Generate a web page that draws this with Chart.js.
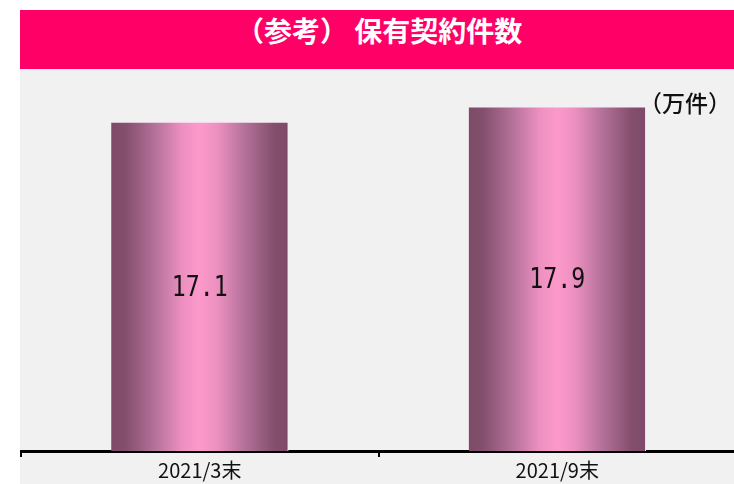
<!DOCTYPE html>
<html>
<head>
<meta charset="utf-8">
<script src="https://cdn.jsdelivr.net/npm/chart.js@4"></script>
<style>
  html, body { margin: 0; padding: 0; background: #fff; width: 734px; height: 484px; overflow: hidden; position: relative; }
  #title { position: absolute; left: 20px; top: 10px; width: 714px; height: 59px; background: #ff0066; }
  #title span { position: absolute; left: 216px; top: 0; line-height: 59px; color: #fff; font: bold 28px 'Noto Sans CJK JP'; white-space: nowrap; }
  #box { position: absolute; left: 20px; top: 69px; width: 716px; height: 415px; background: #f1f1f1; }
  #unit { position: absolute; left: 639px; top: 85px; font: 500 23px 'Noto Sans CJK JP'; color: #111; white-space: nowrap; }
</style>
</head>
<body>
<div id="title"><span>（参考） 保有契約件数</span></div>
<div id="box"><canvas id="myChart" width="716" height="415"></canvas></div>
<div id="unit">（万件）</div>
<script>
const categories = ['2021/3末', '2021/9末'];
const contracts = [17.1, 17.9];
const yMax = 19.5;

const barWidth = 177;

function barGradient(context) {
    const chart = context.chart;
    const xScale = chart.scales.x;
    if (!xScale || !chart.chartArea) { return '#fd98ca'; }
    const cx = xScale.getPixelForValue(context.dataIndex);
    const g = chart.ctx.createLinearGradient(cx - barWidth / 2, 0, cx + barWidth / 2, 0);
    g.addColorStop(0, '#7d4a67');
    g.addColorStop(0.08, '#834f6d');
    g.addColorStop(0.25, '#b5729a');
    g.addColorStop(0.4, '#ec90c0');
    g.addColorStop(0.5, '#fd99cb');
    g.addColorStop(0.6, '#ec90c0');
    g.addColorStop(0.75, '#b5729a');
    g.addColorStop(0.92, '#834f6d');
    g.addColorStop(1, '#7d4a67');
    return g;
}

// value labels in the middle of each bar
const valueLabels = {
    id: 'valueLabels',
    afterDatasetsDraw(chart) {
        const ctx = chart.ctx;
        const meta = chart.getDatasetMeta(0);
        meta.data.forEach((bar, i) => {
            const p = bar.getProps(['x', 'y', 'base'], true);
            ctx.save();
            ctx.translate(p.x, (p.y + p.base) / 2 + 2);
            ctx.scale(0.83, 1);
            ctx.fillStyle = '#111';
            ctx.font = '28px "DejaVu Sans Mono"';
            ctx.textAlign = 'center';
            ctx.textBaseline = 'middle';
            ctx.fillText(contracts[i].toFixed(1), 0, 0);
            ctx.restore();
        });
    }
};

new Chart(document.getElementById('myChart'), {
    type: 'bar',
    data: {
        labels: categories,
        datasets: [{
            data: contracts,
            backgroundColor: barGradient,
            borderColor: '#f6eef2',
            borderWidth: { top: 1, right: 1, left: 0, bottom: 0 },
            borderSkipped: false,
            barThickness: barWidth
        }]
    },
    options: {
        responsive: false,
        animation: false,
        events: [],
        layout: { padding: { top: 7, left: 1, right: 0, bottom: 0 } },
        plugins: {
            legend: { display: false },
            tooltip: { enabled: false }
        },
        scales: {
            x: {
                grid: {
                    display: true,
                    offset: true,
                    drawOnChartArea: false,
                    drawTicks: true,
                    tickLength: 6,
                    color: '#000',
                    lineWidth: 2
                },
                border: { display: true, color: '#000', width: 3 },
                ticks: {
                    color: '#111',
                    padding: 1.5,
                    font: { family: 'Noto Sans CJK JP', size: 20 }
                }
            },
            y: {
                display: false,
                min: 0,
                max: yMax
            }
        }
    },
    plugins: [valueLabels]
});
</script>
</body>
</html>
